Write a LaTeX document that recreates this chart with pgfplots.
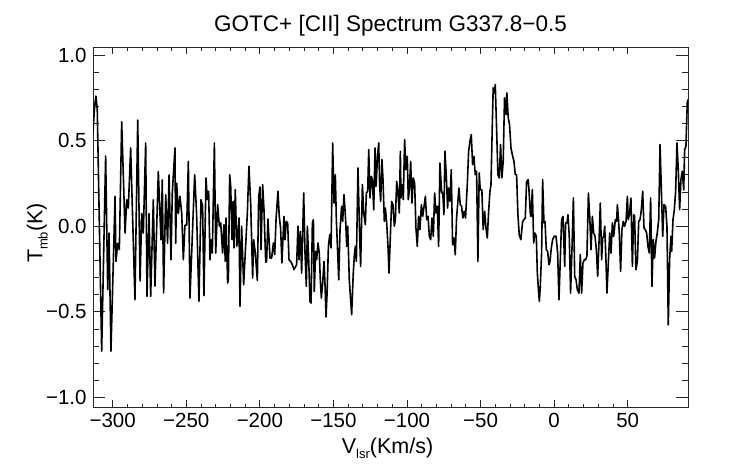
\documentclass[border=0pt]{standalone}
\usepackage{pgfplots}
\usepackage{pgfplotstable}
\pgfplotsset{compat=1.18}
\usepackage{fontspec}
\setmainfont{Liberation Sans}
\pgfplotstableread{
v T
-313.4 0.55
-312.3 0.70
-311.4 0.76
-310.5 0.68
-307.5 -0.73
-304.8 0.41
-303.4 -0.37
-302.5 -0.04
-301.2 -0.73
-298.4 0.175
-297.8 -0.206
-296.6 -0.10
-295.5 -0.137
-293.9 0.61
-291.6 -0.04
-290.5 0.155
-289.4 0.106
-287.8 0.457
-284.9 -0.43
-283.0 0.62
-281.4 -0.32
-280.3 0.074
-279.2 -0.04
-277.6 0.486
-276.7 -0.41
-275.3 0.074
-274.2 -0.41
-272.4 0.155
-271.3 -0.35
-269.0 0.32
-267.2 -0.08
-266.3 0.27
-265.4 -0.39
-264.0 0.184
-262.7 -0.10
-261.7 0.30
-260.4 -0.196
-259.5 0.194
-257.7 0.457
-257.2 -0.10
-256.5 0.25
-255.4 0.074
-254.3 0.175
-253.1 0.074
-252.0 -0.196
-250.9 0.006
-249.7 0.006
-248.6 0.379
-247.5 -0.42
-244.3 0.301
-243.0 0.077
-241.4 -0.439
-240.0 0.155
-238.9 0.116
-238.0 -0.406
-236.6 0.282
-235.7 0.155
-234.8 0.204
-233.9 -0.196
-233.2 -0.079
-232.3 -0.157
-230.9 0.486
-230.0 -0.157
-228.7 0.126
-227.5 0.0
-226.6 0.019
-225.3 -0.157
-224.4 0.009
-223.5 -0.205
-223.0 0.048
-221.9 -0.332
-221.4 -0.313
-220.5 0.301
-219.8 0.233
-218.9 -0.079
-218.2 0.145
-217.6 -0.127
-216.7 0.214
-215.7 -0.118
-215.1 -0.079
-214.2 0.048
-213.5 -0.468
-212.4 0.0
-211.0 -0.342
-209.9 -0.157
-208.5 0.077
-207.4 0.350
-206.2 0.126
-204.9 -0.303
-204.2 -0.079
-203.1 -0.157
-201.7 -0.317
-200.8 0.174
-199.9 0.229
-199.2 -0.137
-198.1 0.243
-197.2 0.096
-196.0 -0.211
-195.4 -0.205
-194.5 0.042
-193.1 -0.186
-192.0 -0.186
-190.8 -0.098
-189.9 -0.166
-189.0 0.038
-187.7 0.204
-186.8 0.057
-185.9 -0.011
-185.0 -0.215
-183.6 0.057
-182.9 -0.079
-182.0 0.028
-181.1 0.019
-180.2 -0.196
-179.1 -0.205
-177.9 -0.225
-176.8 -0.254
-175.0 -0.225
-174.1 0.0
-173.4 -0.196
-172.5 -0.030
-171.6 -0.274
-170.2 0.194
-169.3 -0.157
-168.4 -0.352
-167.7 0.0
-166.8 -0.196
-165.9 -0.440
-165.2 -0.449
-164.3 0.019
-163.6 0.038
-163.0 -0.381
-162.1 -0.147
-161.4 -0.196
-160.5 -0.098
-159.6 -0.157
-158.9 -0.313
-158.2 -0.420
-157.3 -0.332
-156.4 -0.206
-155.7 -0.342
-155.0 -0.531
-154.3 -0.391
-153.4 -0.118
-152.5 -0.050
-151.6 -0.127
-150.5 0.486
-149.6 0.135
-148.7 0.301
-148.0 0.038
-147.1 -0.157
-146.4 -0.313
-145.5 -0.020
-144.4 0.116
-143.7 0.028
-142.8 0.184
-141.7 0.038
-141.0 -0.118
-140.3 0.0
-139.2 -0.313
-137.6 -0.517
-136.5 -0.274
-135.8 -0.176
-135.1 -0.118
-134.4 -0.206
-133.3 0.340
-132.1 -0.079
-131.5 -0.235
-130.3 0.243
-129.4 0.077
-128.3 0.009
-127.6 0.194
-126.7 0.204
-126.0 0.447
-125.1 0.165
-124.2 0.291
-123.5 0.272
-122.6 0.096
-121.7 0.457
-121.0 0.233
-120.1 0.399
-119.2 0.486
-118.6 0.243
-117.9 0.145
-117.0 0.389
-116.3 0.272
-115.4 0.028
-114.7 0.106
-113.8 0.019
-112.9 -0.118
-112.2 -0.274
-111.3 -0.059
-110.4 0.145
-109.5 0.126
-108.6 0.0
-107.9 0.038
-107.0 0.262
-106.3 0.214
-105.2 0.077
-104.5 0.438
-104.1 0.165
-103.2 0.243
-102.5 0.155
-101.6 0.506
-100.7 0.330
-99.8 0.408
-99.1 0.155
-98.4 0.213
-97.5 0.379
-96.6 0.135
-95.7 0.282
-94.8 0.252
-93.9 -0.011
-93.0 -0.118
-92.1 0.058
-91.2 -0.020
-90.2 0.126
-89.3 0.058
-88.4 0.116
-87.5 0.174
-86.6 0.038
-85.7 0.058
-84.8 -0.059
-83.9 -0.079
-83.0 0.048
-82.1 -0.059
-81.2 0.194
-80.3 0.077
-79.4 0.116
-78.5 -0.118
-77.6 0.369
-76.5 0.204
-75.6 0.184
-74.9 0.067
-74.2 0.438
-73.3 0.301
-72.4 0.106
-71.7 0.223
-70.8 0.145
-69.9 0.330
-69.0 -0.108
-68.1 -0.069
-67.2 -0.167
-66.3 0.048
-65.4 0.145
-64.7 0.223
-63.8 0.126
-62.9 0.116
-62.0 0.048
-61.1 0.087
-60.2 0.048
-59.0 0.243
-58.1 0.438
-57.2 0.496
-56.3 0.535
-55.4 0.360
-54.5 0.408
-53.6 0.301
-52.7 0.321
-51.8 -0.206
-50.9 0.311
-50.2 0.213
-49.1 0.213
-48.2 -0.020
-47.2 0.087
-46.3 -0.011
-45.4 -0.069
-44.5 0.087
-43.6 0.204
-42.9 0.243
-42.0 0.594
-41.4 0.808
-40.7 0.779
-40.0 0.828
-39.1 0.574
-38.2 0.301
-37.3 0.282
-36.4 0.477
-35.5 0.282
-34.6 0.379
-33.7 0.750
-32.7 0.652
-32.1 0.779
-31.2 0.633
-30.3 0.594
-29.3 0.457
-28.4 0.418
-27.3 0.379
-26.4 0.301
-25.5 0.301
-24.6 0.067
-23.7 -0.050
-22.6 -0.079
-21.4 0.028
-20.5 0.038
-19.6 0.048
-18.7 0.262
-17.6 0.272
-17.1 0.214
-16.2 0.077
-15.7 0.057
-14.8 0.214
-13.9 -0.098
-13.0 -0.040
-12.1 -0.059
-11.4 -0.274
-10.5 -0.391
-10.0 -0.440
-9.4 -0.352
-8.5 -0.157
-7.8 0.272
-6.9 0.019
-6.2 0.028
-5.3 -0.137
-4.4 -0.147
-3.5 -0.225
-2.8 -0.206
-1.9 -0.127
-1.0 -0.079
0.1 -0.059
1.3 -0.059
2.4 -0.157
3.3 -0.430
4.2 -0.196
5.1 0.038
6.0 0.057
7.2 -0.235
7.8 0.019
8.8 0.019
9.4 0.067
10.3 -0.059
11.2 -0.391
12.2 -0.118
13.1 0.165
14.0 -0.293
14.9 -0.313
15.8 -0.371
16.9 -0.391
17.8 -0.166
18.7 -0.391
19.6 -0.215
20.5 -0.196
21.4 -0.196
22.3 -0.176
23.3 0.194
24.2 0.057
25.1 -0.137
26.0 0.057
26.9 -0.040
27.8 -0.059
28.7 -0.137
29.6 -0.293
30.5 -0.098
31.4 0.135
32.3 -0.196
33.0 -0.069
33.7 -0.059
34.4 0.0
35.3 -0.215
35.9 -0.391
36.8 -0.225
37.8 -0.040
38.7 -0.157
39.6 0.019
40.5 -0.059
41.6 0.038
42.5 0.028
43.0 0.126
43.6 0.057
44.3 -0.040
45.2 -0.264
46.1 -0.020
47.0 0.028
47.9 -0.001
48.9 0.028
49.8 0.174
50.4 0.038
51.3 0.077
52.2 0.165
53.2 -0.235
54.1 0.067
54.7 0.057
55.6 -0.254
56.6 -0.206
57.5 0.028
58.4 0.038
59.3 0.097
60.2 0.204
61.1 -0.011
62.0 -0.020
62.9 -0.040
63.8 -0.118
64.7 -0.157
65.6 0.165
66.5 -0.352
67.4 -0.079
68.3 -0.186
69.2 -0.089
70.1 -0.040
71.1 0.038
72.0 0.477
72.9 0.213
73.8 -0.059
74.7 0.126
75.8 0.116
76.7 -0.001
77.6 -0.576
78.5 -0.196
79.4 -0.059
79.9 -0.147
80.8 0.038
81.7 0.097
82.6 0.204
83.5 0.486
84.4 0.330
85.3 0.097
86.2 0.272
87.1 0.321
88.1 0.213
88.7 0.447
89.6 0.467
90.5 0.720
91.0 0.740
}\spec
\begin{document}
\begin{tikzpicture}[x=1pt,y=1pt]
\useasboundingbox (0,0) rectangle (742,464);
\begin{axis}[
  at={(93pt,56.7pt)}, anchor=south west,
  width=595pt, height=360pt, scale only axis,
  xmin=-313.4, xmax=91.0, ymin=-1.058, ymax=1.045,
  axis line style={line width=0.8pt, black!85},
  xtick={-300,-250,-200,-150,-100,-50,0,50},
  xticklabels={−300,−250,−200,−150,−100,−50,0,50},
  ytick={-1,-0.5,0,0.5,1},
  yticklabels={−1.0,−0.5,0.0,0.5,1.0},
  minor x tick num=4, minor y tick num=4,
  tick align=inside,
  xtick pos=both, ytick pos=both,
  xticklabel pos=bottom, yticklabel pos=left,
  xtick style={line width=0.7pt, black!85, /pgfplots/major tick length=7.2pt, /pgfplots/minor tick length=3.6pt},
  ytick style={line width=0.7pt, black!85, /pgfplots/major tick length=12pt, /pgfplots/minor tick length=6pt},
  ticklabel style={font=\fontsize{20.5}{24}\selectfont},
  xticklabel style={anchor=base, inner sep=0pt, yshift=-19.7pt},
  yticklabel style={anchor=east, inner sep=0pt, xshift=-6.3pt},
  title={GOTC+ [CII] Spectrum G337.8−0.5},
  title style={font=\fontsize{22.5}{26}\selectfont, at={(axis description cs:0.5,1)}, anchor=base, yshift=9.3pt, inner sep=0pt},
  xlabel={V\raisebox{-0.45ex}{\fontsize{13}{13}\selectfont lsr}(Km/s)},
  xlabel style={font=\fontsize{21.5}{25}\selectfont, at={(axis description cs:0.5,0)}, anchor=base, xshift=-3pt, yshift=-45.7pt, inner sep=0pt},
  ylabel={T\raisebox{-0.45ex}{\fontsize{13}{13}\selectfont mb}(K)},
  ylabel style={font=\fontsize{21.5}{25}\selectfont, at={(axis description cs:-0.085,0.484)}, anchor=base, rotate=0, inner sep=0pt},
  clip=true,
]
\addplot[black, line width=1.6pt, line join=round] table[x=v,y=T] {\spec};
\end{axis}
\end{tikzpicture}
\end{document}
